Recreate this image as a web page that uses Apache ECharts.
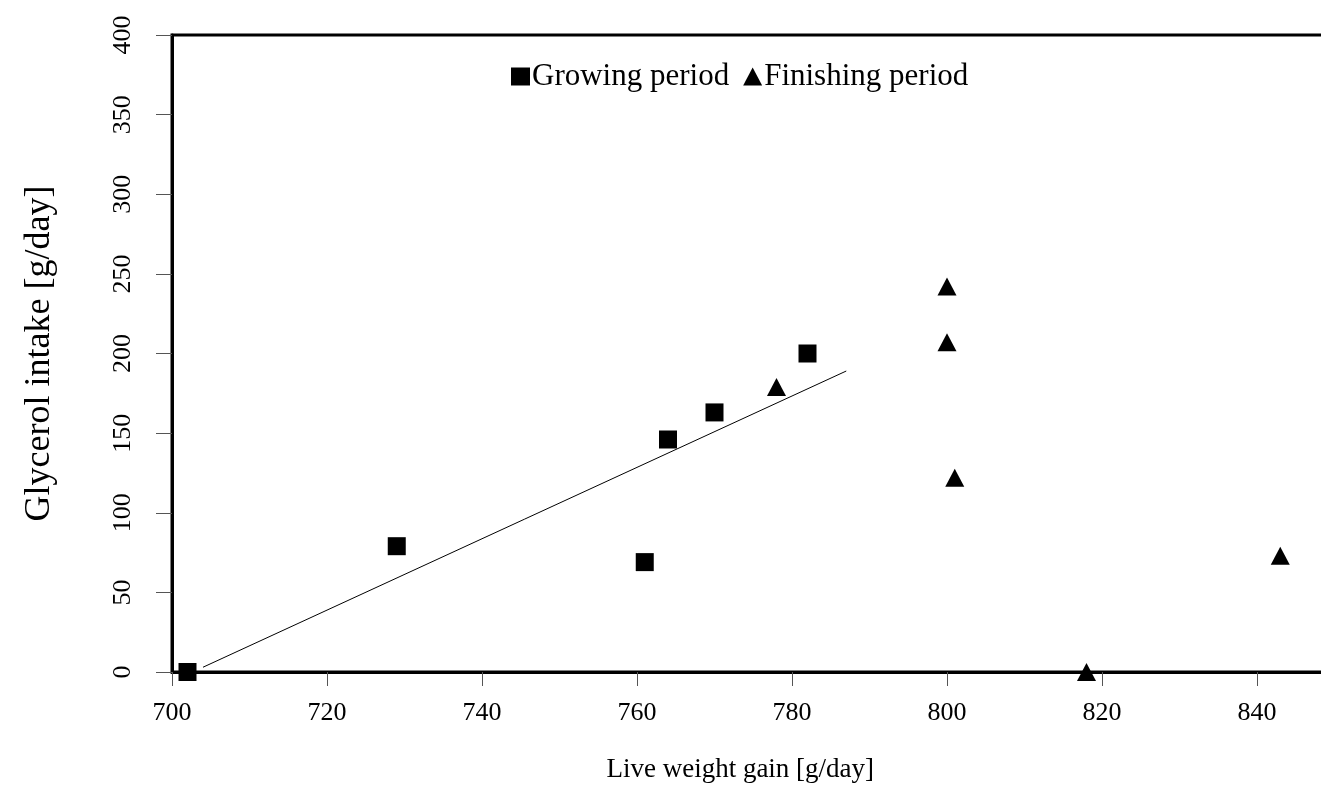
<!DOCTYPE html>
<html>
<head>
<meta charset="utf-8">
<script src="https://cdn.jsdelivr.net/npm/echarts@6/dist/echarts.min.js"></script>
<style>html,body{margin:0;padding:0;background:#fff;}#c{width:1321px;height:789px;}</style>
</head>
<body>
<div id="c"></div>
<script>
const growingX = [702, 729, 761, 764, 770, 782];
const growingY = [0, 79, 69, 146, 163, 200];
const finishingX = [778, 800, 800, 801, 818, 843];
const finishingY = [179, 242, 207, 122, 0, 73];
const trendX = [704, 787];
const trendY = [3, 189];
const seriesNames = ['Growing period', 'Finishing period'];

const zip = (a, b) => a.map((v, i) => [v, b[i]]);
const font = '"Liberation Serif", "DejaVu Serif", serif';

const chart = echarts.init(document.getElementById('c'));
chart.setOption({
  animation: false,
  backgroundColor: '#fff',
  grid: { left: 172, top: 35, height: 637, width: 1162.5, outerBoundsMode: 'none', containLabel: false,
          show: true, borderColor: '#000', borderWidth: 3 },
  legend: {
    top: 56, left: 506, itemWidth: 19, itemHeight: 18, itemGap: 14,
    textStyle: { fontFamily: font, fontSize: 31, color: '#000', padding: [0, 0, 0, -3] },
    data: [{ name: seriesNames[0], icon: 'rect' }, { name: seriesNames[1], icon: 'triangle' }]
  },
  xAxis: {
    type: 'value', min: 700, max: 850, interval: 20,
    name: 'Live weight gain [g/day]', nameLocation: 'middle', nameGap: 84,
    nameTextStyle: { fontFamily: font, fontSize: 27, color: '#000', padding: [0, 26, 0, 0] },
    axisLine: { show: true, lineStyle: { color: '#000', width: 3 } },
    axisTick: { show: true, length: 14, lineStyle: { color: '#555', width: 1 } },
    axisLabel: { fontFamily: font, fontSize: 26, color: '#000', margin: 28, showMaxLabel: false },
    splitLine: { show: false }
  },
  yAxis: {
    type: 'value', min: 0, max: 400, interval: 50,
    name: 'Glycerol intake [g/day]', nameLocation: 'middle', nameGap: 114,
    nameTextStyle: { fontFamily: font, fontSize: 36, color: '#000' },
    axisLine: { show: true, lineStyle: { color: '#000', width: 3 } },
    axisTick: { show: true, length: 16, lineStyle: { color: '#555', width: 1 } },
    axisLabel: { fontFamily: font, fontSize: 26, color: '#000', rotate: 90, margin: 36 },
    splitLine: { show: false }
  },
  series: [
    {
      name: seriesNames[0], type: 'scatter', symbol: 'rect', symbolSize: 18,
      itemStyle: { color: '#000', opacity: 1 }, data: zip(growingX, growingY), z: 3
    },
    {
      name: seriesNames[1], type: 'scatter', symbol: 'triangle', symbolSize: [19, 18],
      itemStyle: { color: '#000', opacity: 1 }, data: zip(finishingX, finishingY), z: 3
    },
    {
      name: 'trend', type: 'line', showSymbol: false, symbol: 'none',
      lineStyle: { color: '#000', width: 1 }, data: zip(trendX, trendY), z: 2
    }
  ]
});
</script>
</body>
</html>
